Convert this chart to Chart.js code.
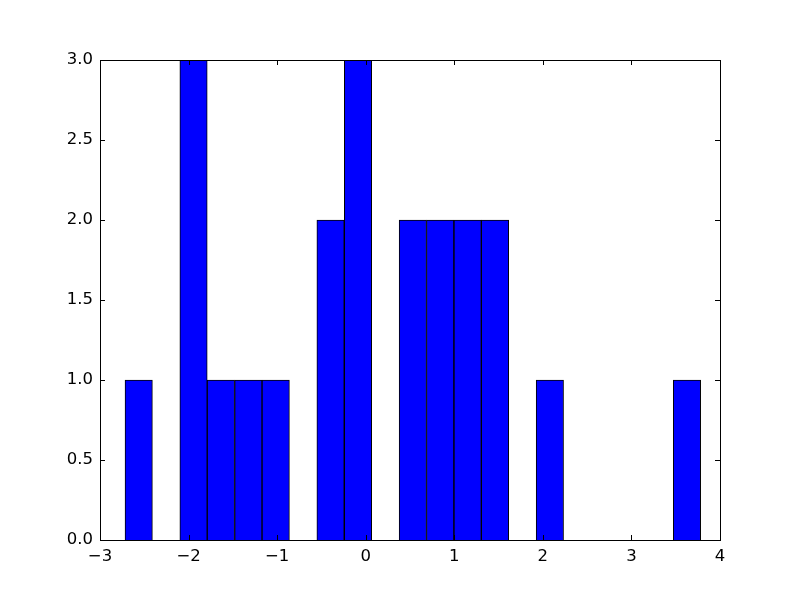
<!DOCTYPE html>
<html>
<head>
<meta charset="utf-8">
<script src="https://cdn.jsdelivr.net/npm/chart.js@4/dist/chart.umd.min.js"></script>
<style>
  html, body { margin: 0; padding: 0; background: #fff; }
  #wrap { width: 800px; height: 600px; }
</style>
</head>
<body>
<div id="wrap"><canvas id="histChart" width="800" height="600"></canvas></div>
<script>
// Histogram bins (centers) and counts
const binCenters = [-2.563, -2.254, -1.944, -1.635, -1.325, -1.016, -0.706, -0.397, -0.087, 0.222,
                    0.532, 0.841, 1.151, 1.460, 1.770, 2.079, 2.389, 2.698, 3.008, 3.317, 3.627];
const binCounts = [1, 0, 3, 1, 1, 1, 0, 2, 3, 0, 2, 2, 2, 2, 0, 1, 0, 0, 0, 0, 1];
const xTicks = [-3, -2, -1, 0, 1, 2, 3, 4];
const yTicks = [0, 0.5, 1, 1.5, 2, 2.5, 3];

const points = binCenters.map((c, i) => ({ x: c, y: binCounts[i] === 0 ? null : binCounts[i] }));

// Frame and inward ticks, like matplotlib classic style
const frameTicks = {
    id: 'frameTicks',
    afterDraw(chart) {
        const { ctx, chartArea: a, scales } = chart;
        const len = 5;
        ctx.save();
        ctx.strokeStyle = '#000';
        ctx.lineWidth = 1;
        ctx.beginPath();
        xTicks.forEach(v => {
            const px = Math.round(scales.x.getPixelForValue(v)) + 0.5;
            ctx.moveTo(px, a.bottom); ctx.lineTo(px, a.bottom - len);
            ctx.moveTo(px, a.top); ctx.lineTo(px, a.top + len);
        });
        yTicks.forEach(v => {
            const py = Math.round(scales.y.getPixelForValue(v)) + 0.5;
            ctx.moveTo(a.left, py); ctx.lineTo(a.left + len, py);
            ctx.moveTo(a.right, py); ctx.lineTo(a.right - len, py);
        });
        ctx.stroke();
        ctx.strokeRect(Math.round(a.left) + 0.5, Math.round(a.top) + 0.5,
            Math.round(a.right - a.left), Math.round(a.bottom - a.top));
        ctx.restore();
    }
};

const fmtMinus = v => (v < 0 ? '\u2212' + Math.abs(v) : String(v));

new Chart(document.getElementById('histChart').getContext('2d'), {
    type: 'bar',
    data: {
        datasets: [{
            data: points,
            backgroundColor: '#0000ff',
            borderColor: '#000000',
            borderWidth: 1,
            borderSkipped: 'start',
            barPercentage: 1.0,
            categoryPercentage: 1.0
        }]
    },
    options: {
        responsive: false,
        animation: false,
        layout: { padding: { top: 60, right: 80, left: 0, bottom: 0 } },
        plugins: {
            legend: { display: false },
            tooltip: { enabled: false }
        },
        scales: {
            x: {
                type: 'linear',
                min: -3,
                max: 4,
                offset: false,
                grid: { display: false, drawTicks: false },
                border: { display: false },
                afterBuildTicks: s => { s.ticks = xTicks.map(v => ({ value: v })); },
                afterFit: s => { s.height = 60; },
                ticks: {
                    color: '#000',
                    padding: 7,
                    font: { family: 'DejaVu Sans', size: 16.5 },
                    callback: v => fmtMinus(v)
                }
            },
            y: {
                min: 0,
                max: 3,
                grid: { display: false, drawTicks: false },
                border: { display: false },
                afterBuildTicks: s => { s.ticks = yTicks.map(v => ({ value: v })); },
                afterFit: s => { s.width = 100; },
                ticks: {
                    color: '#000',
                    padding: 7,
                    font: { family: 'DejaVu Sans', size: 16.5 },
                    callback: v => v.toFixed(1)
                }
            }
        }
    },
    plugins: [frameTicks]
});
</script>
</body>
</html>
